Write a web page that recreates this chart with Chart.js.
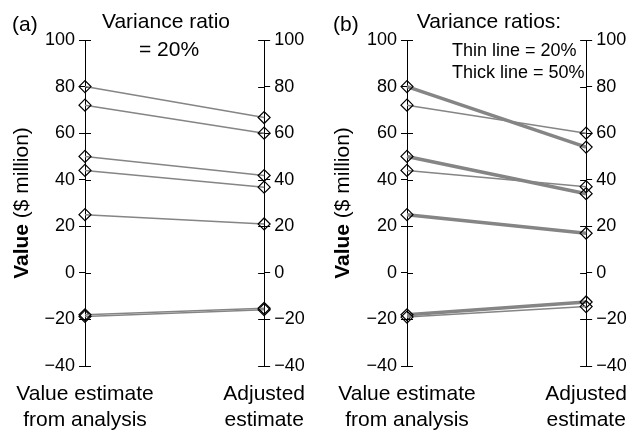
<!DOCTYPE html>
<html>
<head>
<meta charset="utf-8">
<script src="https://cdn.jsdelivr.net/npm/chart.js@4"></script>
<style>
  html, body { margin: 0; padding: 0; background: #fff; }
  #wrap { position: relative; width: 643px; height: 431px; }
  canvas { position: absolute; top: 0; }
</style>
</head>
<body>
<div id="wrap">
  <canvas id="panelA" width="321" height="431" style="left:0"></canvas>
  <canvas id="panelB" width="322" height="431" style="left:321px"></canvas>
</div>
<script>
const categories = [['Value estimate', 'from analysis'], ['Adjusted', 'estimate']];
const yTicks = [-40, -20, 0, 20, 40, 60, 80, 100];

// (a) variance ratio 20%
const startA = [80, 72, 50, 44, 25, -18, -18.7];
const endA = [66.7, 60, 41.8, 36.8, 21, -15.2, -15.8];

// (b) thin line = 20%, thick line = 50%
const startThin = [72, 44, -19];
const endThin = [60, 37, -14.5];
const startThick = [80, 50, 25, -18];
const endThick = [54, 34, 17, -12.5];

const FONT = "'Liberation Sans', Arial, Helvetica, sans-serif";
const GREY = '#858585';

function lines(starts, ends, width) {
  return starts.map((s, i) => ({
    data: [s, ends[i]],
    borderColor: GREY,
    borderWidth: width,
    pointStyle: 'rectRot',
    pointRadius: 6,
    pointBorderColor: '#000',
    pointBorderWidth: 1.2,
    pointBackgroundColor: 'rgba(0,0,0,0)',
    clip: false
  }));
}

function yAxis(position, width) {
  return {
    position: position,
    min: -40,
    max: 100,
    afterBuildTicks: s => { s.ticks = yTicks.map(v => ({ value: v })); },
    afterFit: s => { s.width = width; },
    grid: { drawOnChartArea: false, tickLength: 6, color: '#000', tickColor: '#000' },
    border: { color: '#000', width: 1 },
    ticks: {
      color: '#000',
      padding: 4,
      font: { family: FONT, size: 18 },
      callback: v => String(v).replace('-', '\u2212')
    }
  };
}

// tick marks cross the axis line, so draw the inner half too
const innerTicks = {
  id: 'innerTicks',
  beforeDatasetsDraw(chart) {
    const { ctx, chartArea } = chart;
    ctx.save();
    ctx.strokeStyle = '#000';
    ctx.lineWidth = 1;
    ['y', 'y2'].forEach(id => {
      const sc = chart.scales[id];
      const x = id === 'y' ? chartArea.left : chartArea.right;
      const dir = id === 'y' ? 1 : -1;
      sc.ticks.forEach(t => {
        const py = Math.round(sc.getPixelForValue(t.value)) + 0.5;
        ctx.beginPath();
        ctx.moveTo(x, py);
        ctx.lineTo(x + dir * 6, py);
        ctx.stroke();
      });
    });
    ctx.restore();
  }
};

function notesPlugin(notes) {
  return {
    id: 'notes',
    afterDraw(chart) {
      const ctx = chart.ctx;
      ctx.save();
      ctx.fillStyle = '#000';
      ctx.textBaseline = 'middle';
      notes.forEach(n => {
        ctx.font = (n.size || 21) + 'px ' + FONT;
        ctx.textAlign = n.align || 'center';
        ctx.fillText(n.text, n.x, n.y);
      });
      // y axis title, "Value" in bold
      ctx.translate(22, 203);
      ctx.rotate(-Math.PI / 2);
      const bold = 'bold 21px ' + FONT, normal = '21px ' + FONT;
      ctx.font = bold;
      const w1 = ctx.measureText('Value ').width;
      ctx.font = normal;
      const w2 = ctx.measureText('($ million)').width;
      const x0 = -(w1 + w2) / 2;
      ctx.textAlign = 'left';
      ctx.font = bold;
      ctx.fillText('Value ', x0, 0);
      ctx.font = normal;
      ctx.fillText('($ million)', x0 + w1, 0);
      ctx.restore();
    }
  };
}

function makePanel(id, datasets, axisWidths, notes) {
  return new Chart(document.getElementById(id), {
    type: 'line',
    data: { labels: categories, datasets: datasets },
    options: {
      responsive: false,
      animation: false,
      layout: { padding: { top: 40, left: 0, right: 0, bottom: 0 } },
      plugins: { legend: { display: false }, tooltip: { enabled: false } },
      scales: {
        x: {
          type: 'category',
          afterFit: s => { s.height = 65; },
          grid: { display: false, drawTicks: false },
          border: { display: false },
          ticks: { color: '#000', padding: 16, maxRotation: 0, autoSkip: false, font: { family: FONT, size: 21 } }
        },
        y: yAxis('left', axisWidths[0]),
        y2: yAxis('right', axisWidths[1])
      }
    },
    plugins: [innerTicks, notesPlugin(notes)]
  });
}

makePanel('panelA', lines(startA, endA, 1.5), [85, 49], [
  { text: '(a)', x: 12, y: 25, align: 'left' },
  { text: 'Variance ratio', x: 166, y: 22 },
  { text: '= 20%', x: 169, y: 50 }
]);

makePanel('panelB', lines(startThin, endThin, 1.5).concat(lines(startThick, endThick, 3.5)), [86, 47], [
  { text: '(b)', x: 12, y: 25, align: 'left' },
  { text: 'Variance ratios:', x: 168, y: 22 },
  { text: 'Thin line = 20%', x: 131, y: 51, size: 18, align: 'left' },
  { text: 'Thick line = 50%', x: 131, y: 73, size: 18, align: 'left' }
]);
</script>
</body>
</html>
